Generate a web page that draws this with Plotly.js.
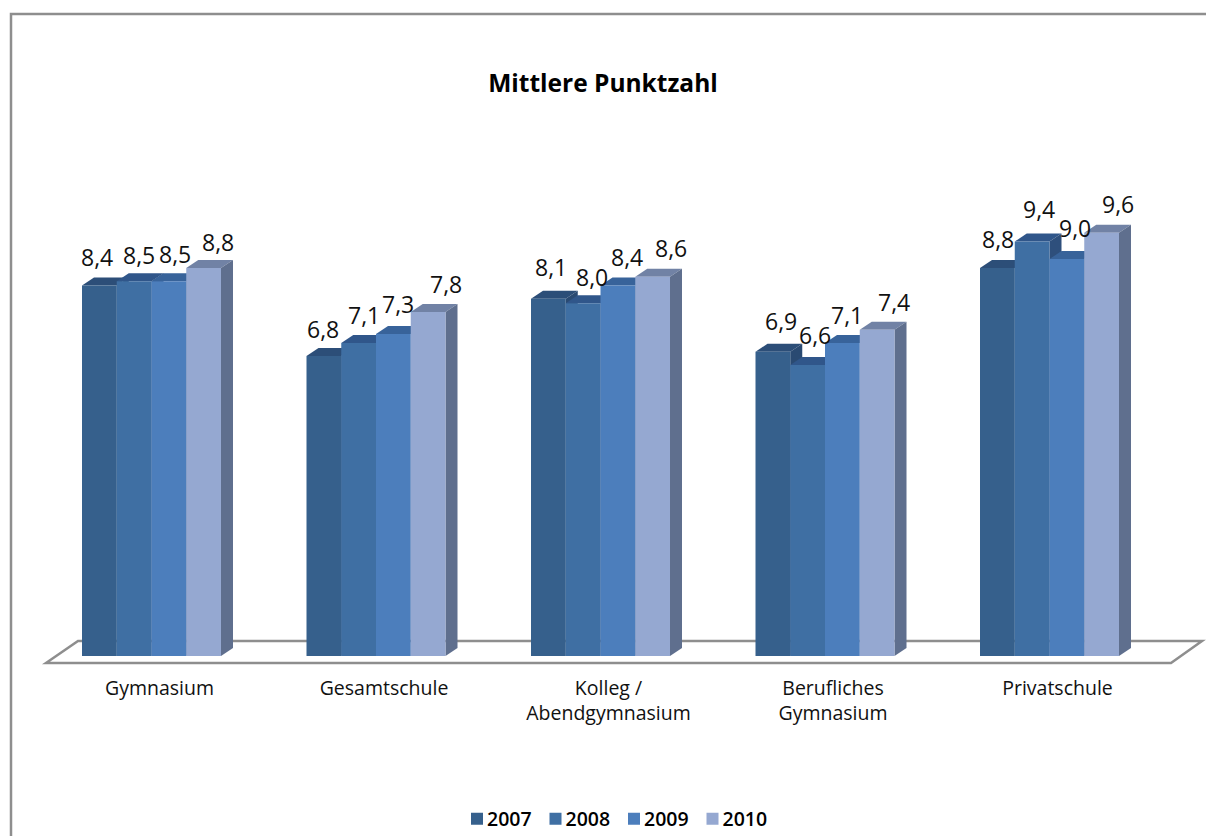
<!DOCTYPE html>
<html><head><meta charset="utf-8">
<script src="https://cdn.plot.ly/plotly-3.0.1.min.js"></script>
<style>html,body{margin:0;padding:0;background:#fff}#chart{width:1206px;height:836px}</style>
</head><body><div id="chart"></div>
<script>
const categories = ["Gymnasium","Gesamtschule","Kolleg /<br>Abendgymnasium","Berufliches<br>Gymnasium","Privatschule"];
const years = ["2007","2008","2009","2010"];
const v2007 = [8.4,6.8,8.1,6.9,8.8];
const v2008 = [8.5,7.1,8.0,6.6,9.4];
const v2009 = [8.5,7.3,8.4,7.1,9.0];
const v2010 = [8.8,7.8,8.6,7.4,9.6];
const series = [v2007,v2008,v2009,v2010];

const frontColors = ["#36608C","#3F6FA3","#4C7EBC","#95A8D1"];
const topColors   = ["#2C4E78","#30568A","#38639A","#7182A5"];
const sideColors  = ["#2A4A72","#2E4F7C","#335B8E","#5F6F8E"];

// label nudges in pixels [series][category]
const labelDx = [[-2,-1,3,8,1],[5,5,9,7,7],[6,5,9,5,8],[14,18,18,17,16]];
const labelDy = [[29,27,32,31,29],[26,28,26,30,32],[27,30,29,28,31],[26,28,29,28,29]];

// plot geometry
const W=1206,H=836,plotBottom=670;
const pxPerCat=224.5, pxPerUnit=44.1, baseY=656, firstCenter=151.5;
const barPx=34.75, depthX=12, depthY=8;
const xRange=[-(firstCenter)/pxPerCat,(W-firstCenter)/pxPerCat];
const yRange=[(baseY-plotBottom)/pxPerUnit,baseY/pxPerUnit];
const barW=barPx/pxPerCat, dX=depthX/pxPerCat, dY=depthY/pxPerUnit;
const px=p=>p/W, py=p=>(plotBottom-p)/plotBottom;

const traces=series.map((vals,i)=>({
  type:"bar",name:years[i],x:categories,y:vals,
  marker:{color:frontColors[i],line:{width:0}},hoverinfo:"x+y+name"
}));

const shapes=[];
// slab on which the bars stand
shapes.push({type:"path",layer:"below",xref:"paper",yref:"paper",
  path:`M${px(46)},${py(663)}L${px(78)},${py(641)}L${px(1202)},${py(641)}L${px(1171)},${py(663)}Z`,
  line:{color:"#8E8E8E",width:2.5},fillcolor:"rgba(0,0,0,0)"});
// chart frame
shapes.push({type:"path",layer:"below",xref:"paper",yref:"paper",
  path:`M${px(11)},${py(836)}L${px(11)},${py(14)}L${px(1206)},${py(14)}`,
  line:{color:"#8E8E8E",width:2.5},fillcolor:"rgba(0,0,0,0)"});

const annotations=[];
series.forEach((vals,i)=>{
  vals.forEach((v,c)=>{
    const xl=c+(i-2)*barW, xr=xl+barW;
    shapes.push({type:"path",layer:"below",xref:"x",yref:"y",line:{width:0},fillcolor:topColors[i],
      path:`M${xl},${v}L${xl+dX},${v+dY}L${xr+dX},${v+dY}L${xr},${v}Z`});
    shapes.push({type:"path",layer:"below",xref:"x",yref:"y",line:{width:0},fillcolor:sideColors[i],
      path:`M${xr},0L${xr+dX},${dY}L${xr+dX},${v+dY}L${xr},${v}Z`});
    annotations.push({x:(xl+xr)/2,y:v,xref:"x",yref:"y",text:v.toFixed(1).replace(".",","),showarrow:false,
      xanchor:"center",yanchor:"middle",xshift:labelDx[i][c],yshift:labelDy[i][c],
      font:{family:"Open Sans",size:23,color:"#111"}});
  });
});

const layout={
  width:W,height:H,margin:{l:0,r:0,t:0,b:H-plotBottom,pad:0,autoexpand:false},
  paper_bgcolor:"#fff",plot_bgcolor:"rgba(0,0,0,0)",
  font:{family:"Open Sans",color:"#111"},
  title:{text:"<b>Mittlere Punktzahl</b>",x:603/W,xanchor:"center",xref:"paper",y:1-83/H,yanchor:"middle",
    font:{family:"Open Sans",size:24.5,color:"#000"}},
  barmode:"group",bargap:1-4*barW,bargroupgap:0,
  xaxis:{type:"category",range:xRange,autorange:false,showgrid:false,zeroline:false,showline:false,ticks:"",
    fixedrange:true,automargin:false,ticklabelstandoff:4,ticklabelshift:8,tickfont:{family:"Open Sans",size:19.5,color:"#111"}},
  yaxis:{range:yRange,autorange:false,visible:false,fixedrange:true,showgrid:false,zeroline:false},
  showlegend:true,
  legend:{orientation:"h",x:px(457),xanchor:"left",y:py(819),yanchor:"middle",
    font:{family:"Open Sans",size:19.5,color:"#000",weight:600},entrywidth:33.5,entrywidthmode:"pixels",
    traceorder:"normal",bgcolor:"rgba(0,0,0,0)",itemclick:false,itemdoubleclick:false},
  shapes,annotations
};
Plotly.newPlot("chart",traces,layout,{displayModeBar:false,responsive:false}).then(()=>{
  document.querySelectorAll("#chart .legendtext").forEach(t=>t.setAttribute("x","30"));
});
</script></body></html>
